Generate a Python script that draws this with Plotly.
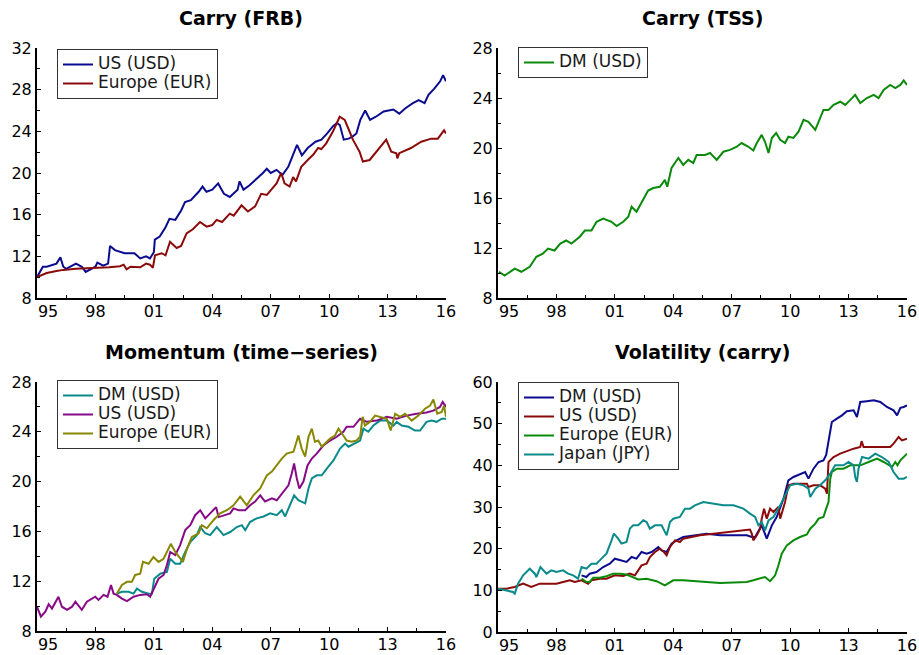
import plotly.graph_objects as go

W, H = 919, 655

# ---------------- data (year, value) ----------------
frb_us = [(1995.0,10.0),(1995.3,11.0),(1995.5,11.0),(1996.0,11.3),(1996.2,11.9),(1996.35,11.0),(1996.5,10.8),
          (1997.0,11.3),(1997.3,11.0),(1997.5,10.5),(1998.0,11.0),(1998.1,11.4),(1998.4,11.1),(1998.65,11.3),
          (1998.75,13.0),(1999.0,12.6),(1999.5,12.3),(2000.0,12.3),(2000.3,11.8),(2000.6,12.0),(2000.8,11.8),
          (2001.0,12.4),(2001.05,13.6),(2001.3,13.9),(2001.6,14.8),(2001.8,15.6),(2002.1,15.5),(2002.4,16.4),
          (2002.6,17.2),(2002.9,17.4),(2003.3,18.2),(2003.5,18.7),(2003.7,18.2),(2004.0,18.4),(2004.3,19.0),
          (2004.6,18.0),(2004.9,17.7),(2005.3,18.4),(2005.4,19.2),(2005.6,18.4),(2005.9,18.8),(2006.2,19.3),
          (2006.6,20.0),(2006.8,20.4),(2007.0,20.0),(2007.3,20.3),(2007.6,19.8),(2007.9,20.6),(2008.2,21.9),
          (2008.35,22.7),(2008.6,21.7),(2008.9,22.4),(2009.3,23.0),(2009.6,23.2),(2009.9,23.8),(2010.2,24.5),
          (2010.4,24.8),(2010.55,24.6),(2010.75,23.2),(2011.0,23.3),(2011.2,23.5),(2011.4,23.8),(2011.6,25.1),
          (2011.85,26.0),(2012.1,25.1),(2012.4,25.4),(2012.8,25.9),(2013.3,26.1),(2013.6,25.7),(2013.9,26.2),
          (2014.3,26.7),(2014.6,27.0),(2014.9,26.7),(2015.1,27.5),(2015.4,28.1),(2015.7,28.8),(2015.85,29.4),
          (2016.0,28.8)]
frb_eur = [(1995.0,10.0),(1995.5,10.4),(1996.0,10.6),(1996.35,10.7),(1997.0,10.8),(1998.06,10.85),(1998.7,10.95),
           (1999.26,11.05),(1999.45,11.2),(1999.6,10.75),(1999.8,11.0),(2000.3,10.95),(2000.6,11.3),(2000.8,11.2),
           (2000.95,10.9),(2001.06,12.1),(2001.4,12.3),(2001.6,12.1),(2001.83,13.4),(2002.17,12.8),(2002.4,13.0),
           (2002.68,14.2),(2003.0,14.6),(2003.37,15.3),(2003.71,14.85),(2004.0,15.0),(2004.22,15.5),(2004.5,15.3),
           (2004.9,16.1),(2005.1,15.9),(2005.5,16.9),(2005.83,16.3),(2006.2,16.8),(2006.51,18.0),(2006.8,17.9),
           (2007.03,18.4),(2007.3,19.0),(2007.54,20.0),(2007.71,19.0),(2007.97,18.7),(2008.15,19.6),(2008.3,19.2),
           (2008.57,20.6),(2008.9,21.25),(2009.2,21.8),(2009.43,22.4),(2009.6,22.3),(2009.85,22.85),(2010.2,24.0),
           (2010.54,25.4),(2010.8,25.1),(2011.0,24.2),(2011.22,23.2),(2011.56,22.05),(2011.73,21.1),(2012.08,21.25),
           (2012.5,22.2),(2012.93,23.2),(2013.19,22.05),(2013.45,21.9),(2013.5,21.4),(2013.6,21.9),(2014.2,22.4),
           (2014.73,23.0),(2015.24,23.3),(2015.58,23.3),(2015.9,24.1),(2016.0,23.8)]

tss_dm = [(1995.05,10.1),(1995.34,9.8),(1995.86,10.35),(1996.2,10.1),(1996.63,10.5),(1996.97,11.3),(1997.3,11.55),
          (1997.57,11.95),(1997.9,11.8),(1998.2,12.35),(1998.5,12.6),(1998.77,12.35),(1999.2,12.9),(1999.46,13.4),
          (1999.8,13.4),(2000.06,14.1),(2000.4,14.35),(2000.83,14.1),(2001.09,13.75),(2001.43,14.1),(2001.69,14.5),
          (2001.86,15.3),(2002.11,14.9),(2002.37,15.6),(2002.71,16.6),(2002.97,16.8),(2003.31,16.9),(2003.57,17.45),
          (2003.69,16.9),(2003.91,18.4),(2004.26,19.2),(2004.51,18.65),(2004.77,19.05),(2005.03,18.8),(2005.2,19.45),
          (2005.63,19.45),(2005.89,19.6),(2006.23,19.05),(2006.57,19.7),(2006.91,19.85),(2007.26,20.1),(2007.51,20.4),
          (2007.86,20.1),(2008.11,19.8),(2008.29,20.4),(2008.54,21.05),(2008.71,20.5),(2008.89,19.6),(2009.06,20.8),
          (2009.28,21.2),(2009.49,20.65),(2009.74,20.4),(2009.91,20.9),(2010.17,20.8),(2010.43,21.3),(2010.69,22.25),
          (2010.94,22.1),(2011.29,21.45),(2011.54,22.4),(2011.71,23.05),(2011.97,23.05),(2012.23,23.45),(2012.57,23.7),
          (2012.83,23.45),(2013.09,23.85),(2013.34,24.25),(2013.6,23.6),(2013.94,24.0),(2014.29,24.25),(2014.54,24.0),
          (2014.8,24.65),(2015.14,25.05),(2015.4,24.8),(2015.66,25.05),(2015.83,25.4),(2016.0,25.05)]

mom_dm = [(1999.1,11.0),(1999.36,11.15),(1999.7,11.15),(1999.96,11.0),(2000.13,11.4),(2000.39,11.15),(2000.73,11.0),
          (2000.9,11.0),(2001.02,12.2),(2001.33,12.6),(2001.67,12.75),(2001.84,13.8),(2002.1,13.4),(2002.35,13.4),
          (2002.61,14.35),(2002.87,15.15),(2003.21,15.7),(2003.38,16.35),(2003.64,15.85),(2003.89,15.7),(2004.23,16.35),
          (2004.58,15.7),(2004.92,15.95),(2005.26,16.35),(2005.52,16.5),(2005.69,16.1),(2005.94,16.75),(2006.28,17.05),
          (2006.63,17.2),(2006.97,17.45),(2007.31,17.3),(2007.57,17.7),(2007.74,17.2),(2008.0,18.25),(2008.2,18.9),
          (2008.42,18.5),(2008.77,18.25),(2008.94,19.45),(2009.11,20.25),(2009.36,20.5),(2009.62,20.5),(2009.88,21.05),
          (2010.22,21.7),(2010.56,22.65),(2010.82,23.05),(2010.99,22.8),(2011.33,23.05),(2011.59,23.3),(2011.76,24.25),
          (2012.01,24.0),(2012.27,24.5),(2012.61,24.9),(2012.96,24.9),(2013.3,24.5),(2013.47,24.8),(2013.73,24.5),
          (2014.07,24.4),(2014.41,24.1),(2014.67,24.1),(2015.0,24.8),(2015.26,24.9),(2015.52,24.8),(2015.78,25.05),
          (2016.0,25.05)]
mom_us = [(1995.0,9.95),(1995.2,9.15),(1995.43,9.55),(1995.6,10.15),(1995.77,9.8),(1996.1,10.75),(1996.28,9.95),
          (1996.54,9.7),(1996.8,9.95),(1996.97,10.35),(1997.3,9.7),(1997.56,10.35),(1997.99,10.75),(1998.16,10.5),
          (1998.42,10.9),(1998.62,10.75),(1998.8,11.7),(1998.93,11.0),(1999.1,10.9),(1999.36,10.6),(1999.62,10.4),
          (1999.96,10.75),(2000.3,10.9),(2000.64,10.95),(2000.81,10.75),(2001.02,11.4),(2001.24,12.2),(2001.5,12.5),
          (2001.67,13.3),(2001.84,14.35),(2002.1,14.1),(2002.35,14.9),(2002.61,16.1),(2002.87,16.5),(2003.12,17.3),
          (2003.38,17.7),(2003.64,17.05),(2003.89,17.45),(2004.2,17.95),(2004.32,17.15),(2004.58,17.3),(2004.92,17.45),
          (2005.09,17.85),(2005.35,17.7),(2005.69,17.7),(2005.94,18.1),(2006.2,18.4),(2006.46,18.9),(2006.71,18.4),
          (2007.06,18.65),(2007.31,18.5),(2007.65,19.2),(2007.91,19.7),(2008.08,20.65),(2008.2,21.45),(2008.34,20.25),
          (2008.47,19.45),(2008.68,20.0),(2008.89,21.3),(2009.11,21.85),(2009.36,22.25),(2009.7,22.9),(2010.05,23.3),
          (2010.39,23.6),(2010.73,24.0),(2010.9,24.4),(2011.25,24.4),(2011.59,25.05),(2011.93,24.8),(2012.44,24.9),
          (2012.96,25.2),(2013.47,25.05),(2013.98,25.3),(2014.49,25.45),(2015.0,25.55),(2015.35,25.7),(2015.69,26.0),
          (2015.83,26.4),(2016.0,26.0)]
mom_eur = [(1999.1,11.0),(1999.36,11.7),(1999.62,11.95),(1999.87,11.95),(2000.04,12.5),(2000.3,12.6),(2000.44,13.55),
           (2000.73,13.4),(2000.98,13.95),(2001.24,13.55),(2001.5,13.8),(2001.67,14.35),(2001.87,15.0),(2002.1,14.35),
           (2002.35,13.8),(2002.49,13.55),(2002.7,14.6),(2002.95,15.55),(2003.3,15.85),(2003.46,16.5),(2003.72,16.25),
           (2004.06,16.9),(2004.4,17.45),(2004.75,17.7),(2005.09,18.1),(2005.43,18.8),(2005.77,18.1),(2006.11,18.9),
           (2006.46,19.45),(2006.8,20.5),(2007.06,20.8),(2007.31,21.3),(2007.57,21.85),(2007.82,22.25),(2008.17,22.4),
           (2008.42,23.7),(2008.59,22.65),(2008.77,22.0),(2008.94,23.6),(2009.11,24.25),(2009.27,23.2),(2009.44,23.3),
           (2009.62,22.8),(2009.88,23.2),(2010.05,23.45),(2010.3,23.7),(2010.48,24.25),(2010.73,23.7),(2010.9,23.3),
           (2011.15,23.2),(2011.41,23.3),(2011.59,23.6),(2011.72,25.2),(2011.84,24.5),(2012.1,24.8),(2012.36,25.3),
           (2012.61,25.2),(2012.96,25.05),(2013.16,24.1),(2013.39,25.45),(2013.64,25.2),(2013.9,25.45),(2014.24,24.9),
           (2014.58,25.3),(2014.92,25.85),(2015.18,26.1),(2015.35,26.6),(2015.55,25.45),(2015.78,25.6),(2015.9,26.1),
           (2016.0,25.2)]

vol_dm = [(1999.29,13.6),(1999.54,13.2),(1999.71,14.0),(2000.06,14.4),(2000.4,15.6),(2000.74,16.4),(2001.0,17.6),
          (2001.26,17.2),(2001.6,16.8),(2001.86,18.0),(2002.11,17.6),(2002.37,19.2),(2002.63,18.8),(2002.89,19.2),
          (2003.23,20.4),(2003.4,19.6),(2003.66,19.2),(2003.91,21.2),(2004.17,22.0),(2004.51,22.8),(2005.03,23.2),
          (2005.71,23.6),(2006.4,23.2),(2007.09,23.2),(2007.77,23.2),(2008.03,22.8),(2008.2,22.8),(2008.54,25.6),
          (2008.8,22.4),(2009.06,25.6),(2009.31,27.6),(2009.66,32.0),(2009.91,36.4),(2010.17,37.2),(2010.51,37.8),
          (2010.77,38.4),(2010.94,36.8),(2011.2,39.2),(2011.46,40.8),(2011.71,41.2),(2011.85,42.5),(2011.97,45.6),
          (2012.14,50.4),(2012.4,51.2),(2012.66,52.0),(2012.91,53.0),(2013.26,53.2),(2013.43,51.6),(2013.6,55.2),
          (2013.94,55.4),(2014.29,55.6),(2014.63,55.2),(2014.97,54.0),(2015.31,53.2),(2015.49,52.0),(2015.66,53.8),
          (2015.83,54.0),(2016.0,54.4)]
vol_us = [(1995.0,10.4),(1995.43,10.4),(1995.86,10.8),(1996.29,11.6),(1996.71,10.8),(1997.14,11.6),(1997.66,11.6),
          (1998.0,11.6),(1998.34,12.0),(1998.69,12.4),(1998.94,12.0),(1999.29,12.4),(1999.63,11.6),(1999.8,12.4),
          (2000.23,12.8),(2000.57,12.8),(2001.0,13.6),(2001.43,13.45),(2001.77,14.0),(2002.03,13.6),(2002.37,16.0),
          (2002.63,16.4),(2002.8,18.0),(2003.06,19.2),(2003.31,20.0),(2003.52,19.2),(2003.66,18.4),(2003.83,20.4),
          (2004.09,22.0),(2004.34,21.6),(2004.51,22.4),(2004.86,22.8),(2005.37,23.2),(2006.06,23.6),(2006.74,24.0),
          (2007.43,24.4),(2007.94,24.6),(2008.03,23.6),(2008.11,22.0),(2008.29,23.2),(2008.46,24.8),(2008.54,27.2),
          (2008.66,29.6),(2008.8,27.2),(2008.97,29.6),(2009.14,28.8),(2009.4,30.0),(2009.49,27.2),(2009.74,31.2),
          (2009.91,35.2),(2010.17,35.6),(2010.86,35.6),(2010.94,34.8),(2011.2,35.2),(2011.54,35.2),(2011.8,34.4),
          (2011.89,33.2),(2011.97,40.8),(2012.23,42.0),(2012.57,42.8),(2013.0,43.6),(2013.26,44.0),(2013.6,44.4),
          (2013.67,45.8),(2013.77,44.4),(2014.46,44.4),(2015.14,44.4),(2015.31,45.2),(2015.57,46.8),(2015.74,46.0),
          (2016.0,46.4)]
vol_eur = [(1999.29,12.8),(1999.54,12.0),(1999.71,12.0),(1999.89,13.0),(2000.23,13.0),(2000.57,13.4),(2000.91,14.0),
           (2001.26,14.0),(2001.6,13.8),(2001.94,13.2),(2002.2,12.6),(2002.63,12.8),(2003.14,12.2),(2003.57,11.2),
           (2003.74,11.6),(2004.0,12.4),(2004.51,12.4),(2005.03,12.2),(2005.71,12.0),(2006.4,11.75),(2007.09,11.85),
           (2007.77,12.0),(2008.11,12.4),(2008.46,12.8),(2008.71,13.2),(2008.97,12.2),(2009.23,13.6),(2009.4,16.0),
           (2009.57,18.8),(2009.83,20.8),(2010.17,22.0),(2010.51,22.8),(2010.86,23.4),(2011.03,24.8),(2011.29,26.0),
           (2011.46,27.2),(2011.71,27.6),(2011.85,29.6),(2011.97,31.2),(2012.06,36.8),(2012.14,38.4),(2012.4,39.2),
           (2012.74,39.2),(2013.09,40.0),(2013.6,40.0),(2014.03,40.8),(2014.46,41.6),(2014.8,40.8),(2015.23,39.6),
           (2015.4,40.8),(2015.51,40.0),(2015.66,41.2),(2015.83,42.0),(2016.0,42.8)]
vol_jpy = [(1995.0,10.4),(1995.43,10.0),(1995.77,9.6),(1995.86,9.2),(1996.03,11.6),(1996.29,13.6),(1996.63,15.2),
           (1996.89,14.0),(1996.97,13.2),(1997.18,15.6),(1997.49,14.0),(1997.74,14.8),(1998.0,14.4),(1998.34,14.8),
           (1998.6,14.0),(1998.86,13.6),(1999.11,12.8),(1999.29,15.6),(1999.54,15.2),(1999.8,16.4),(2000.06,16.4),
           (2000.31,17.6),(2000.57,18.8),(2000.83,22.0),(2000.95,23.6),(2001.17,22.4),(2001.34,21.2),(2001.6,21.6),
           (2001.77,24.8),(2001.94,25.6),(2002.2,25.6),(2002.46,26.8),(2002.63,26.4),(2002.8,24.8),(2003.06,25.6),
           (2003.4,25.6),(2003.57,24.0),(2003.66,23.2),(2003.83,26.4),(2004.0,27.2),(2004.34,27.6),(2004.6,29.6),
           (2004.86,29.6),(2005.11,30.4),(2005.54,31.2),(2006.06,30.8),(2006.57,30.4),(2007.09,30.4),(2007.6,29.6),
           (2007.94,28.4),(2008.2,27.6),(2008.37,25.6),(2008.54,26.4),(2008.71,24.4),(2008.89,26.8),(2009.14,27.6),
           (2009.49,30.4),(2009.74,32.8),(2010.0,35.2),(2010.34,35.6),(2010.69,35.2),(2010.94,34.4),(2011.03,32.4),
           (2011.29,34.4),(2011.54,35.2),(2011.8,36.4),(2012.06,38.0),(2012.31,40.0),(2012.74,40.0),(2013.0,40.8),
           (2013.26,40.0),(2013.34,37.2),(2013.43,36.0),(2013.51,39.2),(2013.69,42.0),(2014.03,41.6),(2014.37,42.8),
           (2014.71,42.0),(2015.06,40.8),(2015.31,38.4),(2015.57,36.8),(2015.83,36.8),(2016.0,37.2)]

# x ticks: the first label ("95") is printed a little right of its tick, as in the original
x_tickvals = [1995, 1998, 2001, 2004, 2007, 2010, 2013, 2016]
x_ticktext = ["", "98", "01", "04", "07", "10", "13", "16"]
first_label_pos = [1995.57]
first_label_text = ["95"]
titles = ["Carry (FRB)", "Carry (TSS)", "Momentum (time\u2212series)", "Volatility (carry)"]

NAVY, DRED, GREEN, TEAL, PURPLE, OLIVE = "#0b0b8f", "#8b0a0a", "#0a8a0a", "#0a8a8a", "#870a87", "#878700"
FONT = "DejaVu Sans"

# panel pixel boxes: (left, right, top, bottom)
boxes = [(37, 446, 48, 298), (498, 907, 48, 298), (37, 446, 382, 631), (498, 907, 382, 632)]
yranges = [(8, 32, 4), (8, 28, 4), (8, 28, 4), (0, 60, 10)]
legend_pos = [(57, 49), (518, 47), (57, 380), (518, 382)]

fig = go.Figure()

series = [
    (frb_us, "US (USD)", NAVY, 1), (frb_eur, "Europe (EUR)", DRED, 1),
    (tss_dm, "DM (USD)", GREEN, 2),
    (mom_dm, "DM (USD)", TEAL, 3), (mom_us, "US (USD)", PURPLE, 3), (mom_eur, "Europe (EUR)", OLIVE, 3),
    (vol_dm, "DM (USD)", NAVY, 4), (vol_us, "US (USD)", DRED, 4), (vol_eur, "Europe (EUR)", GREEN, 4),
    (vol_jpy, "Japan (JPY)", TEAL, 4),
]
for pairs, name, color, k in series:
    sfx = "" if k == 1 else str(k)
    fig.add_trace(go.Scatter(
        x=[p[0] for p in pairs], y=[p[1] for p in pairs], mode="lines",
        name='<span style="font-size:17px">' + name + '</span>',
        line=dict(color=color, width=2), xaxis="x" + sfx, yaxis="y" + sfx,
        legend="legend" + sfx, hoverinfo="skip"))

# empty placeholder traces so that the label-only overlay axes get drawn
for k in range(4):
    sfx = "" if k == 0 else str(k + 1)
    fig.add_trace(go.Scatter(x=[], y=[], mode="lines", xaxis="x" + str(k + 5), yaxis="y" + sfx,
                             showlegend=False, hoverinfo="skip"))

layout = dict(width=W, height=H, margin=dict(l=0, r=0, t=0, b=0, autoexpand=False),
              paper_bgcolor="white", plot_bgcolor="white", showlegend=True,
              font=dict(family=FONT, color="black"))
annotations = []
tickfont = dict(family=FONT, size=16, color="black")
for i, (l, r, t, b) in enumerate(boxes):
    sfx = "" if i == 0 else str(i + 1)
    y0, y1, dy = yranges[i]
    common = dict(showline=True, linecolor="black", linewidth=2, showgrid=False, zeroline=False,
                  ticks="inside", ticklen=4, tickwidth=1, tickcolor="black",
                  tickfont=tickfont, automargin=False)
    layout["xaxis" + sfx] = dict(domain=[l / W, r / W], anchor="y" + sfx, range=[1995, 2016],
                                 tickmode="array", tickvals=x_tickvals, ticktext=x_ticktext,
                                 ticklabelstandoff=-2,
                                 minor=dict(tick0=1995, dtick=1.5, ticks="inside", ticklen=3,
                                            tickcolor="black", tickwidth=1),
                                 **common)
    # overlay axis carrying only the offset first label (same tick geometry, invisible tick)
    layout["xaxis" + str(i + 5)] = dict(overlaying="x" + sfx, anchor="y" + sfx, range=[1995, 2016],
                                        side="bottom",
                                        tickmode="array", tickvals=first_label_pos,
                                        ticktext=first_label_text, ticks="inside", ticklen=4,
                                        tickwidth=1, tickcolor="rgba(0,0,0,0)",
                                        showline=True, linecolor="rgba(0,0,0,0)", linewidth=2,
                                        showgrid=False, zeroline=False, tickfont=tickfont,
                                        ticklabelstandoff=-2, automargin=False)
    layout["yaxis" + sfx] = dict(domain=[1 - b / H, 1 - t / H], anchor="x" + sfx, range=[y0, y1],
                                 tickmode="linear", tick0=y0, dtick=dy,
                                 minor=dict(tick0=y0, dtick=dy / 2, ticks="inside", ticklen=3,
                                            tickcolor="black", tickwidth=1),
                                 **common)
    lx, ly = legend_pos[i]
    layout["legend" + sfx] = dict(x=lx / W, y=1 - ly / H, xanchor="left", yanchor="top",
                                  xref="paper", yref="paper",
                                  bordercolor="#333333", borderwidth=1, bgcolor="white",
                                  font=dict(family=FONT, size=11, color="#1a1a1a"),
                                  tracegroupgap=0)
    ty = 18 if i < 2 else 352
    annotations.append(dict(text=titles[i], x=(l + r) / 2 / W, y=1 - ty / H, xref="paper", yref="paper",
                            xanchor="center", yanchor="middle", showarrow=False,
                            font=dict(family=FONT, size=19, color="black", weight="bold")))
layout["annotations"] = annotations
fig.update_layout(**layout)

fig.write_html("out.html", config={"displayModeBar": False},
               post_script="document.body.style.margin='0';")
